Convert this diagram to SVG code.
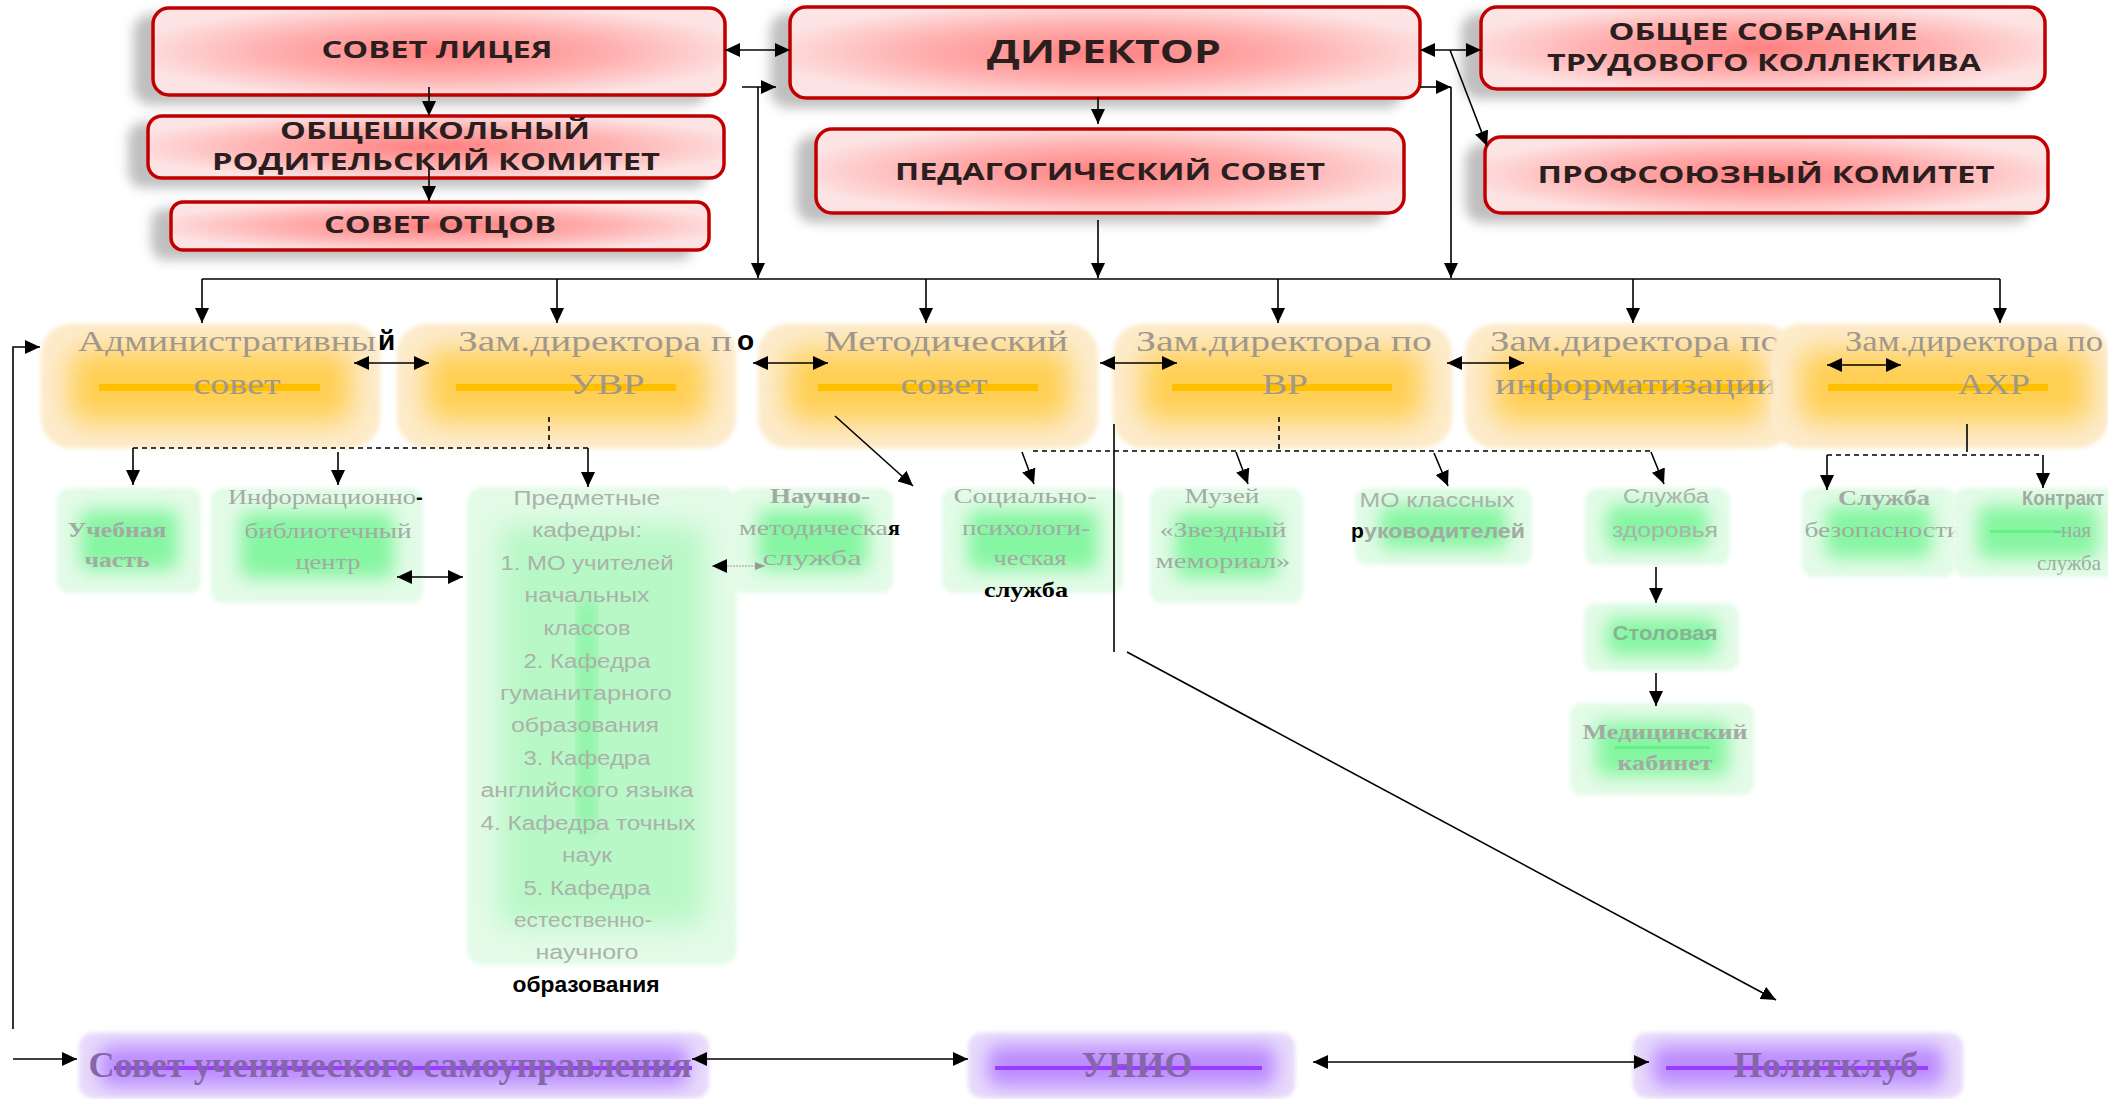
<svg xmlns="http://www.w3.org/2000/svg" width="2108" height="1099" viewBox="0 0 2108 1099">
<style>
.rb{fill:url(#redg);stroke:#c00000;stroke-width:3.5;filter:url(#shadow)}
.rt{font-family:"Open Sans","Liberation Sans",sans-serif;font-weight:700;fill:#2a1e1e;text-anchor:middle}
.ot{font-family:"Liberation Serif",serif;font-size:30px;fill:#a0988c}
.gt{font-family:"Liberation Serif",serif;font-size:21px;fill:#a3aaa3}
.gtb{font-family:"Liberation Serif",serif;font-size:22px;font-weight:700;fill:#a3aaa3}
.gs{font-family:"Liberation Sans",sans-serif;font-size:20px;fill:#aab2aa}
.gsb{font-family:"Liberation Sans",sans-serif;font-size:20px;font-weight:700;fill:#a3aaa3}
.pt{font-family:"Liberation Serif",serif;font-size:36px;font-weight:700;fill:#8566aa}
.bk{font-family:"Liberation Sans",sans-serif;font-weight:700;fill:#000}
.bks{font-family:"Liberation Serif",serif;font-weight:700;fill:#000}
.c{text-anchor:middle}
.oo{fill:#fdebcc}
.oi{fill:#ffcf52;filter:url(#blur)}
.ol{fill:#ffc000}
.go{fill:#e3fbe7}
.gi{fill:#86f6a2;filter:url(#blurS)}
.po{fill:#e8dafb}
.pi{fill:#bb8cff;filter:url(#blurS)}
.pl{fill:#9b3dff}
.ln{stroke:#000;stroke-width:1.6;fill:none}
.dash{stroke:#000;stroke-width:1.6;fill:none;stroke-dasharray:5 4}
.ar{marker-end:url(#ah)}
.dar{marker-end:url(#ah);marker-start:url(#ah)}
</style>
<defs>
<radialGradient id="redg" cx="0.5" cy="0.5" r="0.55">
<stop offset="0" stop-color="#ff8080"/>
<stop offset="0.55" stop-color="#ffb0b0"/>
<stop offset="1" stop-color="#fde4e4"/>
</radialGradient>
<filter id="shadow" x="-20%" y="-30%" width="140%" height="170%">
<feDropShadow dx="-18" dy="8" stdDeviation="6" flood-color="#000" flood-opacity="0.25"/>
</filter>
<filter id="blur" x="-50%" y="-50%" width="200%" height="200%"><feGaussianBlur stdDeviation="14"/></filter>
<filter id="blurS" x="-50%" y="-50%" width="200%" height="200%"><feGaussianBlur stdDeviation="9"/></filter>
<filter id="soft" x="-10%" y="-20%" width="120%" height="140%"><feGaussianBlur stdDeviation="2"/></filter>
<marker id="ah" markerUnits="userSpaceOnUse" markerWidth="16" markerHeight="14" refX="15" refY="7" orient="auto-start-reverse">
<path d="M0,0 L15,7 L0,14 z" fill="#000"/>
</marker>
</defs>

<!-- top red nodes -->
<g id="n-sovet-liceya">
<rect class="rb" x="153" y="8" width="572" height="87" rx="16"/>
<text class="rt" x="437" y="58" font-size="24" textLength="231" lengthAdjust="spacingAndGlyphs">СОВЕТ ЛИЦЕЯ</text>
</g>
<g id="n-roditelsky">
<rect class="rb" x="148" y="116" width="576" height="62" rx="14"/>
<text class="rt" x="435" y="139" font-size="24" textLength="310" lengthAdjust="spacingAndGlyphs">ОБЩЕШКОЛЬНЫЙ</text>
<text class="rt" x="436" y="170" font-size="24" textLength="448" lengthAdjust="spacingAndGlyphs">РОДИТЕЛЬСКИЙ КОМИТЕТ</text>
</g>
<g id="n-sovet-otcov">
<rect class="rb" x="171" y="202" width="538" height="48" rx="12"/>
<text class="rt" x="440" y="233" font-size="24" textLength="232" lengthAdjust="spacingAndGlyphs">СОВЕТ ОТЦОВ</text>
</g>
<g id="n-direktor">
<rect class="rb" x="790" y="7" width="630" height="91" rx="16"/>
<text class="rt" x="1104" y="63" font-size="32" textLength="234" lengthAdjust="spacingAndGlyphs">ДИРЕКТОР</text>
</g>
<g id="n-pedsovet">
<rect class="rb" x="816" y="129" width="588" height="84" rx="16"/>
<text class="rt" x="1110" y="180" font-size="24" textLength="430" lengthAdjust="spacingAndGlyphs">ПЕДАГОГИЧЕСКИЙ СОВЕТ</text>
</g>
<g id="n-obshee-sobranie">
<rect class="rb" x="1481" y="7" width="564" height="82" rx="16"/>
<text class="rt" x="1763" y="40" font-size="24" textLength="309" lengthAdjust="spacingAndGlyphs">ОБЩЕЕ СОБРАНИЕ</text>
<text class="rt" x="1764" y="71" font-size="24" textLength="434" lengthAdjust="spacingAndGlyphs">ТРУДОВОГО КОЛЛЕКТИВА</text>
</g>
<g id="n-profkom">
<rect class="rb" x="1485" y="137" width="563" height="76" rx="16"/>
<text class="rt" x="1766" y="183" font-size="24" textLength="457" lengthAdjust="spacingAndGlyphs">ПРОФСОЮЗНЫЙ КОМИТЕТ</text>
</g>

<!-- orange nodes -->
<g id="n-adm-sovet">
<rect class="oo" x="41" y="324" width="339" height="124" rx="30" filter="url(#soft)"/>
<rect class="oi" x="70" y="350" width="281" height="72" rx="14"/>
<rect class="ol" x="99" y="384" width="221" height="7"/>
<text class="ot" x="78" y="351" textLength="298" lengthAdjust="spacingAndGlyphs">Административны</text>
<text class="bk" x="378" y="350" font-size="28">й</text>
<text class="ot c" x="237" y="394" textLength="87" lengthAdjust="spacingAndGlyphs">совет</text>
</g>
<g id="n-uvr">
<rect class="oo" x="397" y="324" width="339" height="124" rx="30" filter="url(#soft)"/>
<rect class="oi" x="426" y="350" width="281" height="72" rx="14"/>
<rect class="ol" x="456" y="384" width="220" height="7"/>
<text class="ot" x="458" y="351" textLength="274" lengthAdjust="spacingAndGlyphs">Зам.директора п</text>
<text class="bk" x="737" y="350" font-size="28">о</text>
<text class="ot c" x="607" y="394" textLength="75" lengthAdjust="spacingAndGlyphs">УВР</text>
</g>
<g id="n-metod-sovet">
<rect class="oo" x="758" y="324" width="340" height="124" rx="30" filter="url(#soft)"/>
<rect class="oi" x="787" y="350" width="282" height="72" rx="14"/>
<rect class="ol" x="818" y="384" width="220" height="7"/>
<text class="ot c" x="946" y="351" textLength="244" lengthAdjust="spacingAndGlyphs">Методический</text>
<text class="ot c" x="944" y="394" textLength="87" lengthAdjust="spacingAndGlyphs">совет</text>
</g>
<g id="n-vr">
<rect class="oo" x="1113" y="324" width="339" height="124" rx="30" filter="url(#soft)"/>
<rect class="oi" x="1142" y="350" width="281" height="72" rx="14"/>
<rect class="ol" x="1172" y="384" width="220" height="7"/>
<text class="ot c" x="1284" y="351" textLength="296" lengthAdjust="spacingAndGlyphs">Зам.директора по</text>
<text class="ot c" x="1285" y="394" textLength="46" lengthAdjust="spacingAndGlyphs">ВР</text>
</g>
<g id="n-info">
<rect class="oo" x="1465" y="324" width="328" height="124" rx="30" filter="url(#soft)"/>
<rect class="oi" x="1494" y="350" width="270" height="72" rx="14"/>
<rect class="ol" x="1525" y="384" width="240" height="7"/>
<text class="ot" x="1490" y="351" textLength="290" lengthAdjust="spacingAndGlyphs">Зам.директора по</text>
<text class="ot" x="1495" y="394" textLength="282" lengthAdjust="spacingAndGlyphs">информатизации</text>
</g>
<g id="n-ahr">
<rect class="oo" x="1771" y="324" width="337" height="124" rx="30" filter="url(#soft)"/>
<rect class="oi" x="1800" y="350" width="290" height="72" rx="14"/>
<rect class="ol" x="1828" y="384" width="220" height="7"/>
<text class="ot" x="1845" y="351" textLength="258" lengthAdjust="spacingAndGlyphs">Зам.директора по</text>
<text class="ot c" x="1994" y="394" textLength="72" lengthAdjust="spacingAndGlyphs">АХР</text>
</g>

<!-- green nodes -->
<g id="n-uchebnaya">
<rect class="go" x="57" y="488" width="144" height="105" rx="12" filter="url(#soft)"/>
<rect class="gi" x="80" y="510" width="98" height="60" rx="8"/>
<text class="gtb c" x="117" y="537" textLength="99" lengthAdjust="spacingAndGlyphs">Учебная</text>
<text class="gtb c" x="117" y="567" textLength="65" lengthAdjust="spacingAndGlyphs">часть</text>
</g>
<g id="n-ibc">
<rect class="go" x="211" y="488" width="212" height="115" rx="12" filter="url(#soft)"/>
<rect class="gi" x="240" y="512" width="154" height="66" rx="8"/>
<text class="gt c" x="322" y="504" textLength="188" lengthAdjust="spacingAndGlyphs">Информационно</text>
<text class="bk" x="416" y="504" font-size="20">-</text>
<text class="gt c" x="328" y="538" textLength="167" lengthAdjust="spacingAndGlyphs">библиотечный</text>
<text class="gt c" x="328" y="569" textLength="65" lengthAdjust="spacingAndGlyphs">центр</text>
</g>
<g id="n-kafedry">
<rect class="go" x="467" y="487" width="270" height="478" rx="16" filter="url(#soft)"/>
<rect x="500" y="525" width="204" height="400" rx="10" fill="#b8f8c6" filter="url(#blur)"/>
<rect x="581" y="600" width="12" height="230" fill="#6ff292" filter="url(#blurS)"/>
<text class="gs c" x="587" y="505" textLength="147" lengthAdjust="spacingAndGlyphs">Предметные</text>
<text class="gs c" x="587" y="537" textLength="110" lengthAdjust="spacingAndGlyphs">кафедры:</text>
<text class="gs c" x="587" y="570" textLength="173" lengthAdjust="spacingAndGlyphs">1. МО учителей</text>
<text class="gs c" x="587" y="602" textLength="125" lengthAdjust="spacingAndGlyphs">начальных</text>
<text class="gs c" x="587" y="635" textLength="87" lengthAdjust="spacingAndGlyphs">классов</text>
<text class="gs c" x="587" y="668" textLength="127" lengthAdjust="spacingAndGlyphs">2. Кафедра</text>
<text class="gs c" x="586" y="700" textLength="172" lengthAdjust="spacingAndGlyphs">гуманитарного</text>
<text class="gs c" x="585" y="732" textLength="148" lengthAdjust="spacingAndGlyphs">образования</text>
<text class="gs c" x="587" y="765" textLength="127" lengthAdjust="spacingAndGlyphs">3. Кафедра</text>
<text class="gs c" x="587" y="797" textLength="213" lengthAdjust="spacingAndGlyphs">английского языка</text>
<text class="gs c" x="588" y="830" textLength="215" lengthAdjust="spacingAndGlyphs">4. Кафедра точных</text>
<text class="gs c" x="587" y="862" textLength="50" lengthAdjust="spacingAndGlyphs">наук</text>
<text class="gs c" x="587" y="895" textLength="127" lengthAdjust="spacingAndGlyphs">5. Кафедра</text>
<text class="gs c" x="583" y="927" textLength="138" lengthAdjust="spacingAndGlyphs">естественно-</text>
<text class="gs c" x="587" y="959" textLength="103" lengthAdjust="spacingAndGlyphs">научного</text>
<text class="bk c" x="586" y="992" font-size="22" textLength="147" lengthAdjust="spacingAndGlyphs">образования</text>
</g>
<g id="n-nauchno">
<rect class="go" x="732" y="488" width="161" height="105" rx="12" filter="url(#soft)"/>
<rect class="gi" x="758" y="510" width="110" height="60" rx="8"/>
<text class="gtb c" x="820" y="503" textLength="100" lengthAdjust="spacingAndGlyphs">Научно-</text>
<text class="gt" x="739" y="535" textLength="149" lengthAdjust="spacingAndGlyphs">методическа</text>
<text class="bks" x="888" y="535" font-size="22">я</text>
<text class="gt c" x="812" y="565" textLength="99" lengthAdjust="spacingAndGlyphs">служба</text>
</g>
<g id="n-socpsy">
<rect class="go" x="942" y="488" width="181" height="105" rx="12" filter="url(#soft)"/>
<rect class="gi" x="968" y="510" width="130" height="60" rx="8"/>
<text class="gt c" x="1025" y="503" textLength="143" lengthAdjust="spacingAndGlyphs">Социально-</text>
<text class="gt c" x="1026" y="535" textLength="128" lengthAdjust="spacingAndGlyphs">психологи-</text>
<text class="gt c" x="1030" y="565" textLength="73" lengthAdjust="spacingAndGlyphs">ческая</text>
<text class="bks c" x="1026" y="597" font-size="22" textLength="84" lengthAdjust="spacingAndGlyphs">служба</text>
</g>
<g id="n-muzey">
<rect class="go" x="1150" y="488" width="153" height="115" rx="12" filter="url(#soft)"/>
<rect class="gi" x="1175" y="512" width="103" height="66" rx="8"/>
<text class="gt c" x="1222" y="503" textLength="75" lengthAdjust="spacingAndGlyphs">Музей</text>
<text class="gt c" x="1223" y="537" textLength="127" lengthAdjust="spacingAndGlyphs">«Звездный</text>
<text class="gt c" x="1223" y="568" textLength="135" lengthAdjust="spacingAndGlyphs">мемориал»</text>
</g>
<g id="n-mo-klass">
<rect class="go" x="1355" y="488" width="177" height="77" rx="12" filter="url(#soft)"/>
<rect class="gi" x="1380" y="505" width="127" height="44" rx="8"/>
<text class="gs c" x="1437" y="507" textLength="155" lengthAdjust="spacingAndGlyphs">МО классных</text>
<text class="bk" x="1351" y="538" font-size="21">р</text>
<text class="gsb" x="1364" y="538" font-size="21" textLength="161" lengthAdjust="spacingAndGlyphs">уководителей</text>
</g>
<g id="n-zdorovye">
<rect class="go" x="1585" y="488" width="145" height="77" rx="12" filter="url(#soft)"/>
<rect class="gi" x="1607" y="505" width="101" height="44" rx="8"/>
<text class="gs c" x="1666" y="503" textLength="86" lengthAdjust="spacingAndGlyphs">Служба</text>
<text class="gs c" x="1665" y="537" textLength="106" lengthAdjust="spacingAndGlyphs">здоровья</text>
</g>
<g id="n-stolovaya">
<rect class="go" x="1584" y="603" width="155" height="68" rx="12" filter="url(#soft)"/>
<rect class="gi" x="1606" y="618" width="111" height="38" rx="8"/>
<text class="gsb c" x="1665" y="640" style="fill:#86b596" textLength="105" lengthAdjust="spacingAndGlyphs">Столовая</text>
</g>
<g id="n-medkab">
<rect class="go" x="1570" y="703" width="184" height="92" rx="12" filter="url(#soft)"/>
<rect class="gi" x="1596" y="722" width="132" height="54" rx="8"/>
<rect x="1615" y="746" width="95" height="3" fill="#66f08a"/>
<text class="gtb c" x="1665" y="739" textLength="165" lengthAdjust="spacingAndGlyphs">Медицинский</text>
<text class="gtb c" x="1665" y="770" textLength="95" lengthAdjust="spacingAndGlyphs">кабинет</text>
</g>
<g id="n-bezopasnost">
<rect class="go" x="1802" y="488" width="153" height="89" rx="12" filter="url(#soft)"/>
<rect class="gi" x="1826" y="506" width="105" height="52" rx="8"/>
<text class="gtb c" x="1884" y="505" textLength="92" lengthAdjust="spacingAndGlyphs">Служба</text>
<text class="gt c" x="1883" y="537" textLength="157" lengthAdjust="spacingAndGlyphs">безопасности</text>
</g>
<g id="n-kontrakt">
<rect class="go" x="1954" y="488" width="170" height="89" rx="12" filter="url(#soft)"/>
<rect class="gi" x="1978" y="506" width="120" height="52" rx="8"/>
<rect x="1990" y="530" width="75" height="3" fill="#66f08a"/>
<text class="gsb" x="2022" y="505" font-size="21" textLength="82" lengthAdjust="spacingAndGlyphs">Контракт</text>
<text class="gt" x="2054" y="537">-ная</text>
<text class="gt" x="2037" y="570" textLength="64" lengthAdjust="spacingAndGlyphs">служба</text>
</g>

<!-- purple nodes -->
<g id="n-sus">
<rect class="po" x="79" y="1033" width="630" height="65" rx="14" filter="url(#soft)"/>
<rect class="pi" x="100" y="1046" width="588" height="40" rx="8"/>
<rect class="pl" x="114" y="1066" width="578" height="4"/>
<text class="pt c" x="390" y="1077" textLength="603" lengthAdjust="spacingAndGlyphs">Совет ученического самоуправления</text>
</g>
<g id="n-unio">
<rect class="po" x="968" y="1033" width="327" height="65" rx="14" filter="url(#soft)"/>
<rect class="pi" x="988" y="1046" width="287" height="40" rx="8"/>
<rect class="pl" x="995" y="1066" width="267" height="4"/>
<text class="pt c" x="1137" y="1077" textLength="111" lengthAdjust="spacingAndGlyphs">УНИО</text>
</g>
<g id="n-politklub">
<rect class="po" x="1633" y="1033" width="330" height="65" rx="14" filter="url(#soft)"/>
<rect class="pi" x="1653" y="1046" width="290" height="40" rx="8"/>
<rect class="pl" x="1666" y="1066" width="262" height="4"/>
<text class="pt c" x="1826" y="1077" textLength="185" lengthAdjust="spacingAndGlyphs">Политклуб</text>
</g>

<!-- connectors -->
<g id="connectors">
<line class="ln dar" x1="725" y1="50" x2="790" y2="50"/>
<line class="ln dar" x1="1420" y1="50" x2="1481" y2="50"/>
<line class="ln ar" x1="1450" y1="50" x2="1487" y2="146"/>
<line class="ln ar" x1="742" y1="87" x2="776" y2="87"/>
<line class="ln ar" x1="758" y1="87" x2="758" y2="278"/>
<line class="ln ar" x1="1420" y1="87" x2="1451" y2="87"/>
<line class="ln ar" x1="1451" y1="87" x2="1451" y2="278"/>
<line class="ln ar" x1="1098" y1="97" x2="1098" y2="124"/>
<line class="ln ar" x1="1098" y1="220" x2="1098" y2="278"/>
<line class="ln ar" x1="429" y1="87" x2="429" y2="116"/>
<line class="ln ar" x1="429" y1="167" x2="429" y2="201"/>
<line class="ln" x1="202" y1="279" x2="2000" y2="279"/>
<line class="ln ar" x1="202" y1="279" x2="202" y2="323"/>
<line class="ln ar" x1="557" y1="279" x2="557" y2="323"/>
<line class="ln ar" x1="926" y1="279" x2="926" y2="323"/>
<line class="ln ar" x1="1278" y1="279" x2="1278" y2="323"/>
<line class="ln ar" x1="1633" y1="279" x2="1633" y2="323"/>
<line class="ln ar" x1="2000" y1="279" x2="2000" y2="323"/>
<polyline class="ln ar" points="13,1029 13,347 40,347"/>
<line class="ln ar" x1="13" y1="1059" x2="77" y2="1059"/>
<line class="ln dar" x1="354" y1="363" x2="429" y2="363"/>
<line class="ln dar" x1="753" y1="363" x2="828" y2="363"/>
<line class="ln dar" x1="1100" y1="363" x2="1177" y2="363"/>
<line class="ln dar" x1="1447" y1="363" x2="1524" y2="363"/>
<line class="ln dar" x1="1827" y1="365" x2="1901" y2="365"/>
<line class="dash" x1="133" y1="448" x2="588" y2="448"/>
<line class="dash" x1="549" y1="417" x2="549" y2="452"/>
<line class="ln ar" x1="133" y1="448" x2="133" y2="485"/>
<line class="ln ar" x1="338" y1="452" x2="338" y2="485"/>
<line class="ln ar" x1="588" y1="448" x2="588" y2="487"/>
<line class="ln ar" x1="835" y1="416" x2="913" y2="486"/>
<line class="ln dar" x1="397" y1="577" x2="463" y2="577"/>
<line x1="712" y1="566" x2="765" y2="566" stroke="#999" stroke-width="1.2" stroke-dasharray="2 1" marker-start="url(#ah)"/>
<path d="M755,562 L765,566 L755,570 z" fill="#999"/>
<line class="dash" x1="1033" y1="451" x2="1651" y2="451"/>
<line class="dash" x1="1279" y1="417" x2="1279" y2="451"/>
<line class="ln ar" x1="1022" y1="452" x2="1034" y2="484"/>
<line class="ln ar" x1="1236" y1="452" x2="1248" y2="484"/>
<line class="ln ar" x1="1434" y1="453" x2="1448" y2="486"/>
<line class="ln ar" x1="1651" y1="452" x2="1664" y2="484"/>
<line class="ln" x1="1114" y1="424" x2="1114" y2="652"/>
<line class="ln ar" x1="1127" y1="652" x2="1776" y2="1000"/>
<line class="ln ar" x1="1656" y1="567" x2="1656" y2="603"/>
<line class="ln ar" x1="1656" y1="673" x2="1656" y2="706"/>
<line class="ln" x1="1967" y1="424" x2="1967" y2="452"/>
<line class="dash" x1="1827" y1="455" x2="2043" y2="455"/>
<line class="ln ar" x1="1827" y1="455" x2="1827" y2="490"/>
<line class="ln ar" x1="2043" y1="455" x2="2043" y2="488"/>
<line class="ln dar" x1="692" y1="1059" x2="968" y2="1059"/>
<line class="ln dar" x1="1313" y1="1062" x2="1649" y2="1062"/>
</g>
</svg>
